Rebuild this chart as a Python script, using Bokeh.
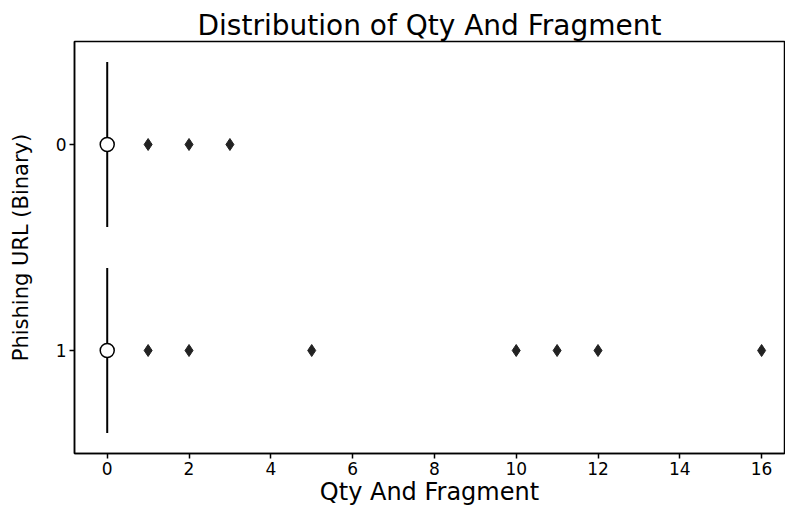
from bokeh.plotting import figure
from bokeh.models import ColumnDataSource, FactorRange, Range1d, FixedTicker
from bokeh.embed import file_html
from bokeh.resources import INLINE

# Phishing URL class labels (top to bottom)
classes = ["0", "1"]

# Box statistics for "Qty And Fragment" per class
q1 = [0, 0]
median = [0, 0]
q3 = [0, 0]
whisker_low = [0, 0]
whisker_high = [0, 0]
means = [0, 0]

# Outlying values per class
outliers_0 = [1, 2, 3]
outliers_1 = [1, 2, 5, 10, 11, 12, 16]

x_ticks = [0, 2, 4, 6, 8, 10, 12, 14, 16]

FONT = "DejaVu Sans"

p = figure(
    width=785, height=508,
    x_range=Range1d(-0.8, 16.56),
    y_range=FactorRange(factors=list(reversed(classes))),
    output_backend="svg", toolbar_location=None,
    title="Distribution of Qty And Fragment",
    min_border_left=74, min_border_right=1,
    min_border_top=41, min_border_bottom=55,
)

box_src = ColumnDataSource(dict(cls=classes, q1=q1, q3=q3, med=median,
                                lo=whisker_low, hi=whisker_high, mean=means))

# Whiskers
p.segment(x0="lo", y0="cls", x1="q1", y1="cls", source=box_src,
          line_color="black", line_width=2)
p.segment(x0="q3", y0="cls", x1="hi", y1="cls", source=box_src,
          line_color="black", line_width=2)
# Boxes (collapsed to a line when q1 == q3)
p.hbar(y="cls", left="q1", right="q3", height=0.8, source=box_src,
       fill_color="white", line_color="black", line_width=2)

# Outliers
out_cls = ["0"] * len(outliers_0) + ["1"] * len(outliers_1)
out_val = outliers_0 + outliers_1
p.scatter(x=out_val, y=out_cls, marker="diamond", size=12,
          fill_color="#222222", line_color="#222222")

# Means
p.scatter(x="mean", y="cls", source=box_src, marker="circle", size=14,
          fill_color="white", line_color="black", line_width=1.5)

p.xgrid.visible = False
p.ygrid.visible = False
p.outline_line_color = "black"
p.outline_line_width = 1.5

p.title.align = "center"
p.title.text_font = FONT
p.title.text_font_size = "28px"
p.title.text_font_style = "normal"
p.title.text_color = "black"
p.title.standoff = 0

p.xaxis.ticker = FixedTicker(ticks=x_ticks)
p.xaxis.axis_label = "Qty And Fragment"
p.yaxis.axis_label = "Phishing URL (Binary)"

for ax in (p.xaxis[0], p.yaxis[0]):
    ax.axis_label_text_font = FONT
    ax.axis_label_text_font_style = "normal"
    ax.axis_label_text_color = "black"
    ax.major_label_text_font = FONT
    ax.major_label_text_font_size = "17px"
    ax.major_label_text_color = "black"
    ax.axis_line_color = "black"
    ax.axis_line_width = 1.5
    ax.major_tick_line_color = "black"
    ax.major_tick_line_width = 1.5
    ax.major_tick_out = 5
    ax.major_tick_in = 0
    ax.minor_tick_line_color = None
    ax.major_label_standoff = 3

p.xaxis.axis_label_text_font_size = "24px"
p.yaxis.axis_label_text_font_size = "21px"
p.xaxis.axis_label_standoff = 0
p.yaxis.axis_label_standoff = 20
p.yaxis.major_label_orientation = "horizontal"

open("out.html", "w").write(file_html(p, INLINE))
